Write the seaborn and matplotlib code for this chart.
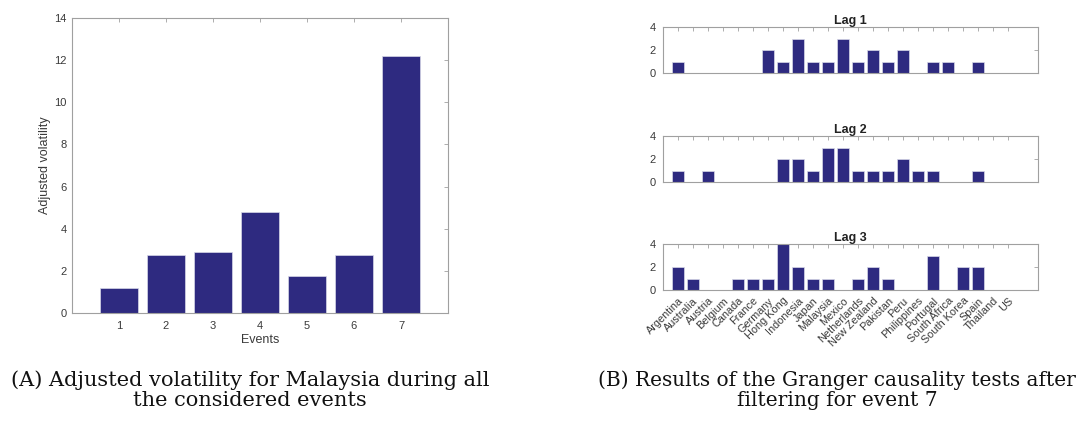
import matplotlib
matplotlib.use("Agg")
import matplotlib.pyplot as plt
import seaborn as sns
import pandas as pd

# ---- data ----
events = ["1", "2", "3", "4", "5", "6", "7"]
adjusted_volatility = [1.2, 2.75, 2.9, 4.8, 1.75, 2.75, 12.2]

countries = ["Argentina", "Australia", "Austria", "Belgium", "Canada", "France",
             "Germany", "Hong Kong", "Indonesia", "Japan", "Malaysia", "Mexico",
             "Netherlands", "New Zealand", "Pakistan", "Peru", "Philippines",
             "Portugal", "South Africa", "South Korea", "Spain", "Thailand", "US"]
lag1 = [1, 0, 0, 0, 0, 0, 2, 1, 3, 1, 1, 3, 1, 2, 1, 2, 0, 1, 1, 0, 1, 0, 0]
lag2 = [1, 0, 1, 0, 0, 0, 0, 2, 2, 1, 3, 3, 1, 1, 1, 2, 1, 1, 0, 0, 1, 0, 0]
lag3 = [2, 1, 0, 0, 1, 1, 1, 4, 2, 1, 1, 0, 1, 2, 1, 0, 0, 3, 0, 2, 2, 0, 0]
lag_titles = ["Lag 1", "Lag 2", "Lag 3"]
yticks_left = [0, 2, 4, 6, 8, 10, 12, 14]
yticks_lag = [0, 2, 4]

caption_a = "(A) Adjusted volatility for Malaysia during all\nthe considered events"
caption_b = "(B) Results of the Granger causality tests after\nfiltering for event 7"

# ---- style ----
sns.set_style("white")
plt.rcParams["font.family"] = ["Liberation Sans", "DejaVu Sans"]
BAR = "#2e2a80"
SPINE = "#a0a0a0"
TXT = "#3a3a3a"

fig = plt.figure(figsize=(10.86, 4.21), dpi=100)


def style_axes(ax, fs, pad=3):
    for s in ax.spines.values():
        s.set_color(SPINE)
        s.set_linewidth(0.8)
    ax.tick_params(direction="in", top=True, right=True, length=3,
                   width=0.6, color=SPINE, labelcolor=TXT, labelsize=fs, pad=pad)


# left panel
axA = fig.add_axes([0.0663, 0.2565, 0.3462, 0.7005])
dfA = pd.DataFrame({"Events": events, "vol": adjusted_volatility})
sns.barplot(data=dfA, x="Events", y="vol", color=BAR, saturation=1,
            width=0.8, edgecolor="#d8d8e8", linewidth=0.5, ax=axA)
axA.set_xlim(-1, len(events))
axA.set_ylim(0, 14)
axA.set_yticks(yticks_left)
axA.set_xlabel("Events", fontsize=9, color=TXT, labelpad=2)
axA.set_ylabel("Adjusted volatility", fontsize=9, color=TXT, labelpad=2)
style_axes(axA, 8)
axA.tick_params(axis="x", pad=6)
axA.tick_params(axis="y", pad=4)

# right panels
bottoms = [0.8266, 0.5677, 0.311]
for i, (vals, title, b) in enumerate(zip([lag1, lag2, lag3], lag_titles, bottoms)):
    ax = fig.add_axes([0.6105, b, 0.3453, 0.109])
    df = pd.DataFrame({"country": countries, "n": vals})
    sns.barplot(data=df, x="country", y="n", color=BAR, saturation=1,
                width=0.8, edgecolor="#d8d8e8", linewidth=0.5, ax=ax)
    ax.set_xlim(-1, len(countries) + 1)
    ax.set_ylim(0, 4)
    ax.set_yticks(yticks_lag)
    ax.set_xlabel("")
    ax.set_ylabel("")
    ax.set_title(title, fontsize=9, fontweight="bold", color="#222222", pad=2)
    style_axes(ax, 8, pad=5)
    if i < 2:
        ax.set_xticklabels([])
    else:
        ax.set_xticks(range(len(countries)))
        ax.set_xticklabels(countries, rotation=45, ha="right",
                           rotation_mode="anchor", fontsize=7.8)
        ax.tick_params(axis="x", pad=4)

# captions
cap_kw = dict(ha="center", va="top", family=["DejaVu Serif"],
              color="#111111", linespacing=1.12)
fig.text(250 / 1086, 1 - 370 / 421, caption_a, fontsize=15, **cap_kw)
fig.text(837 / 1086, 1 - 370 / 421, caption_b, fontsize=14.5, **cap_kw)

fig.savefig("out.png", dpi=100)
